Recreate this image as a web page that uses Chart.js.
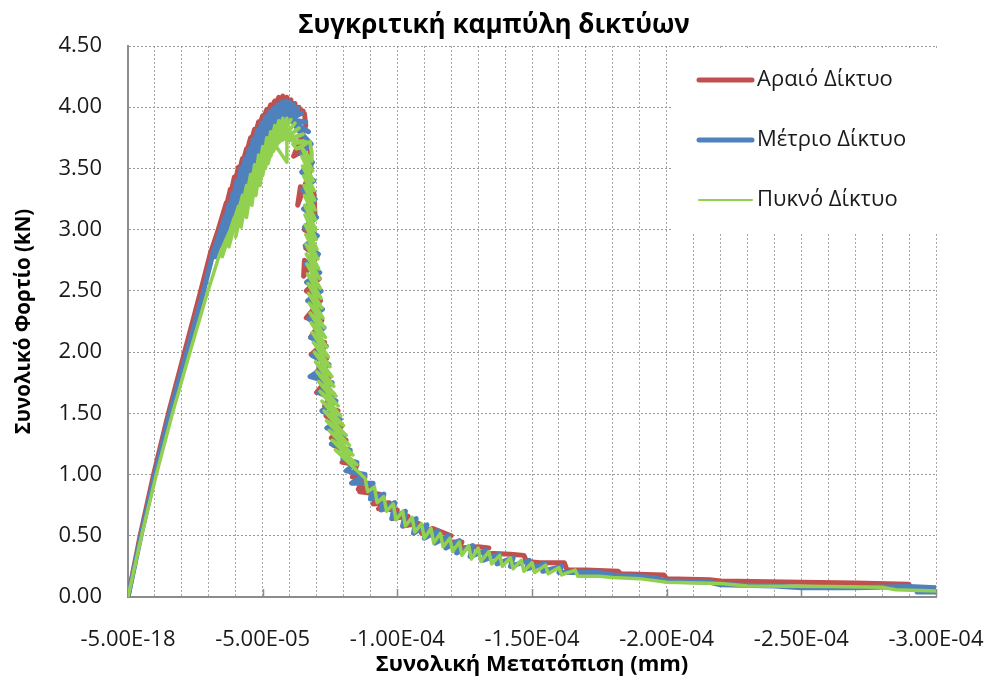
<!DOCTYPE html>
<html>
<head>
<meta charset="utf-8">
<script src="https://cdn.jsdelivr.net/npm/chart.js@4"></script>
<style>
body { margin: 0; background: #fff; }
canvas { display: block; }
</style>
</head>
<body>
<canvas id="c" width="990" height="679"></canvas>
<script>
// displacement magnitudes in units of 1e-5 mm (plotted as negative values), load in kN
const seriesNames = ['Αραιό Δίκτυο', 'Μέτριο Δίκτυο', 'Πυκνό Δίκτυο'];

const araioX = [0, 0.45, 0.95, 1.5, 2.1, 2.7,
  3.05, 3.35, 3.5, 3.65, 3.2, 3.8, 3.5, 3.95, 3.65, 4.1, 3.8, 4.25, 3.95, 4.4, 4.1, 4.55, 4.25, 4.7, 4.4, 4.85, 4.52,
  5.0, 4.65, 5.15, 4.8, 5.3, 4.93, 5.45, 5.05, 5.6, 5.2, 5.75, 5.33, 5.9, 5.48, 6.05, 5.62, 6.2, 5.76, 6.35, 5.9,
  6.5, 6.03, 6.55,
  6.6, 6.15, 6.3, 6.75, 6.8, 6.3, 6.4, 6.9, 6.95, 6.55, 6.98, 6.6, 7.02, 6.52, 6.55, 7.1, 6.62, 7.15, 6.62, 7.2,
  6.78, 7.3, 6.8, 7.38, 6.95, 7.48, 7.0, 7.62, 7.3, 7.8, 7.35, 7.95, 7.55, 8.1, 7.62, 8.25, 7.95, 8.5, 8.33, 8.8,
  8.55, 9.1, 8.6, 9.35, 9.1, 9.7, 9.3, 10.0, 9.8, 10.4, 10.2, 10.8, 10.9, 11.3, 12.0, 11.7, 12.4, 12.3, 13.0, 13.4,
  13.2, 14.2, 14.7, 14.8, 15.3, 16.2, 16.3, 17.0, 18.2, 18.3, 19.9, 20.0, 21.6, 22.0, 25.0, 27.0, 29.0];
const araioY = [0, 0.5, 1.0, 1.5, 2.0, 2.5,
  2.8, 3.0, 3.11, 3.22, 2.78, 3.33, 2.97, 3.43, 3.08, 3.51, 3.19, 3.58, 3.29, 3.66, 3.38, 3.75, 3.46, 3.82, 3.53, 3.88, 3.6,
  3.93, 3.68, 3.98, 3.74, 4.02, 3.8, 4.05, 3.85, 4.08, 3.9, 4.09, 3.94, 4.08, 3.97, 4.06, 4.0, 4.03, 4.01, 4.0, 4.0,
  3.97, 3.98, 3.95,
  3.85, 3.6, 3.62, 3.68, 3.5, 3.2, 3.35, 3.3, 3.1, 3.0, 2.95, 2.85, 2.78, 2.62, 2.75, 2.6, 2.5, 2.42, 2.28, 2.26,
  2.12, 2.08, 1.98, 1.95, 1.82, 1.8, 1.67, 1.66, 1.56, 1.52, 1.48, 1.4, 1.3, 1.28, 1.24, 1.18, 1.1, 1.08, 0.98, 0.98,
  0.88, 0.9, 0.86, 0.84, 0.76, 0.77, 0.72, 0.71, 0.64, 0.66, 0.58, 0.6, 0.52, 0.56, 0.5, 0.45, 0.45, 0.4, 0.41, 0.4,
  0.36, 0.35, 0.34, 0.29, 0.28, 0.28, 0.22, 0.22, 0.21, 0.19, 0.18, 0.15, 0.14, 0.13, 0.12, 0.115, 0.105];

const metrioX = [0, 0.5, 1.0, 1.55, 2.15, 2.75,
  3.15, 3.3, 3.45, 3.6, 3.25, 3.75, 3.45, 3.9, 3.65, 4.05, 3.85, 4.2, 4.05, 4.35, 4.25, 4.5, 4.45, 4.65, 4.6, 4.8,
  4.75, 4.95, 4.85, 5.1, 4.95, 5.25, 5.05, 5.4, 5.15, 5.55, 5.25, 5.7, 5.35, 5.85, 5.45, 6.0, 5.6, 6.15, 5.72, 6.3,
  5.85, 6.45, 5.98, 6.6, 6.1, 6.7, 6.22, 6.33,
  6.8, 6.42, 6.85, 6.45, 6.9, 6.48, 6.95, 6.52, 7.0, 6.55, 7.03, 6.58, 7.07, 6.6, 7.12, 6.63, 7.17, 6.67, 7.22, 6.72,
  7.28, 6.78, 7.36, 6.85, 7.46, 6.76, 7.58, 7.08, 7.72, 7.2, 7.88, 7.38, 8.05, 7.55, 8.25, 7.98, 8.5, 8.1, 8.8, 8.3,
  9.1, 9.0, 9.5, 9.4, 9.9, 9.8, 10.3, 10.2, 10.7, 10.6, 11.1, 11.0, 11.5, 11.4, 11.9, 11.8, 12.3, 12.2, 12.8, 12.7,
  13.3, 13.2, 13.8, 13.7, 14.3, 14.2, 14.9, 14.8, 15.5, 15.4, 16.1, 16.0,
  17.5, 18.0, 19.5, 20.0, 21.6, 22.0, 24.0, 25.0, 27.0, 29.0, 30.0, 29.3, 30.0];
const metrioY = [0, 0.52, 1.0, 1.5, 1.97, 2.45,
  2.8, 2.9, 3.0, 3.1, 2.78, 3.2, 2.87, 3.3, 2.96, 3.4, 3.05, 3.5, 3.14, 3.58, 3.23, 3.66, 3.32, 3.74, 3.42, 3.81,
  3.5, 3.87, 3.57, 3.92, 3.64, 3.96, 3.7, 3.99, 3.75, 4.02, 3.79, 4.04, 3.82, 4.05, 3.85, 4.04, 3.88, 4.02, 3.9, 3.99,
  3.91, 3.95, 3.9, 3.88, 3.88, 3.8, 3.85, 3.81,
  3.7, 3.62, 3.55, 3.47, 3.4, 3.32, 3.25, 3.17, 3.1, 3.02, 2.95, 2.87, 2.8, 2.72, 2.65, 2.57, 2.5, 2.42, 2.35, 2.27,
  2.2, 2.12, 2.05, 1.97, 1.9, 1.8, 1.75, 1.67, 1.6, 1.52, 1.45, 1.38, 1.32, 1.25, 1.2, 1.13, 1.1, 1.03, 1.0, 0.93,
  0.93, 0.8, 0.84, 0.71, 0.77, 0.64, 0.7, 0.58, 0.64, 0.52, 0.59, 0.48, 0.54, 0.44, 0.5, 0.4, 0.46, 0.36, 0.42, 0.33,
  0.38, 0.3, 0.35, 0.27, 0.32, 0.25, 0.3, 0.23, 0.27, 0.21, 0.25, 0.2,
  0.2, 0.18, 0.16, 0.13, 0.12, 0.1, 0.09, 0.075, 0.075, 0.085, 0.075, 0.04, 0.04];

const pyknoX = [0, 0.5, 1.05, 1.65, 2.3, 2.9,
  3.4, 3.6, 3.8, 3.95, 3.5, 4.1, 3.75, 4.25, 4.0, 4.4, 4.2, 4.55, 4.4, 4.7, 4.6, 4.85, 4.75, 5.0, 4.9, 5.15, 5.0,
  5.3, 5.1, 5.45, 5.2, 5.6, 5.3, 5.75, 5.4, 5.9, 5.9, 5.5, 6.05, 5.6, 6.2, 5.72, 6.35, 5.85, 6.5, 6.0, 6.6, 6.12, 6.25,
  6.76, 6.8, 6.83, 6.42, 6.86, 6.45, 6.88, 6.48, 6.91, 6.52, 6.93, 6.54, 6.95, 6.55, 6.96, 6.56, 6.97, 6.57, 6.99, 6.58,
  7.02, 6.6, 7.05, 6.61, 7.08, 6.62, 7.11, 6.64, 7.14, 6.66, 7.17, 6.68, 7.2, 6.7, 7.24, 6.73, 7.29, 6.76, 7.33, 6.8,
  7.38, 6.84, 7.44, 6.88, 7.5, 6.92, 7.57, 6.96, 7.64, 7.01, 7.72, 7.07, 7.81, 7.13, 7.9, 7.2, 8.0, 7.28, 8.1, 7.37,
  8.22, 7.47, 8.35, 7.58, 8.5, 7.7,
  8.8, 8.9, 9.15, 9.25, 9.5, 9.6, 9.85, 9.95, 10.2, 10.3, 10.55, 10.65, 10.9, 11.0, 11.25, 11.35, 11.6, 11.7,
  11.95, 12.05, 12.3, 12.4, 12.65, 12.75, 13.0, 13.1, 13.4, 13.5, 13.8, 13.9, 14.2, 14.3, 14.6, 14.7, 15.0, 15.1,
  15.5, 15.6, 16.0, 16.1, 16.6, 16.7,
  17.5, 18.0, 19.0, 20.0, 22.0, 23.0, 26.0, 28.0, 28.5, 30.0];
const pyknoY = [0, 0.5, 1.0, 1.5, 2.0, 2.45,
  2.8, 2.9, 3.0, 3.1, 2.78, 3.19, 2.86, 3.28, 2.94, 3.36, 3.02, 3.45, 3.1, 3.53, 3.2, 3.61, 3.28, 3.68, 3.36, 3.75, 3.44,
  3.8, 3.5, 3.85, 3.54, 3.89, 3.6, 3.91, 3.64, 3.91, 3.55, 3.68, 3.9, 3.71, 3.87, 3.73, 3.83, 3.74, 3.78, 3.73, 3.72, 3.7, 3.66,
  3.72, 3.64, 3.56, 3.68, 3.48, 3.6, 3.4, 3.52, 3.32, 3.44, 3.24, 3.36, 3.16, 3.28, 3.08, 3.2, 3.0, 3.12, 2.92, 3.04,
  2.84, 2.96, 2.76, 2.88, 2.68, 2.8, 2.6, 2.72, 2.52, 2.64, 2.44, 2.56, 2.36, 2.48, 2.28, 2.4, 2.2, 2.32, 2.12, 2.24,
  2.04, 2.16, 1.96, 2.08, 1.88, 2.0, 1.8, 1.92, 1.72, 1.84, 1.64, 1.76, 1.56, 1.68, 1.48, 1.6, 1.4, 1.52, 1.32, 1.44,
  1.24, 1.36, 1.16, 1.28, 1.08, 1.2,
  0.97, 0.86, 0.9, 0.77, 0.82, 0.7, 0.76, 0.63, 0.7, 0.58, 0.65, 0.53, 0.6, 0.48, 0.56, 0.44, 0.52, 0.41,
  0.48, 0.37, 0.45, 0.34, 0.42, 0.31, 0.4, 0.29, 0.37, 0.27, 0.34, 0.25, 0.32, 0.23, 0.3, 0.21, 0.28, 0.2,
  0.26, 0.19, 0.24, 0.18, 0.22, 0.17,
  0.17, 0.16, 0.15, 0.12, 0.11, 0.09, 0.085, 0.08, 0.06, 0.05];

const xTickLabels = ['-5.00E-18', '-5.00E-05', '-1.00E-04', '-1.50E-04', '-2.00E-04', '-2.50E-04', '-3.00E-04'];
const yTickLabels = ['0.00', '0.50', '1.00', '1.50', '2.00', '2.50', '3.00', '3.50', '4.00', '4.50'];

const colors = ['#c0504d', '#4f81bd', '#92d050'];
const widths = [5, 5, 3.5];
const legendWidths = [5, 5, 2];
const FONT = "'Open Sans', 'Noto Sans', sans-serif";

function points(xs, ys) {
  return xs.map((d, i) => ({x: -d * 1e-5, y: ys[i]}));
}

const allX = [araioX, metrioX, pyknoX];
const allY = [araioY, metrioY, pyknoY];

const datasets = seriesNames.map((name, i) => ({
  label: name,
  data: points(allX[i], allY[i]),
  showLine: true,
  borderColor: colors[i],
  backgroundColor: colors[i],
  borderWidth: widths[i],
  pointRadius: 0,
  tension: 0,
  borderJoinStyle: 'round',
  borderCapStyle: 'round',
  order: 3 - i
}));

const extras = {
  id: 'extras',
  beforeDatasetsDraw(chart) {
    const {ctx, scales: {x}, chartArea} = chart;
    ctx.save();
    // legend sits on a white box over the grid
    ctx.fillStyle = '#fff';
    ctx.fillRect(672, 48, 270, 184);
    // small major tick marks inside the x axis
    ctx.strokeStyle = '#8c8c8c';
    ctx.lineWidth = 1.5;
    for (let k = 1; k < xTickLabels.length; k++) {
      const px = Math.round(x.getPixelForValue(-k * 5e-5)) + 0.5;
      ctx.beginPath();
      ctx.moveTo(px, chartArea.bottom);
      ctx.lineTo(px, chartArea.bottom - 8);
      ctx.stroke();
    }
    ctx.restore();
  },
  afterDraw(chart) {
    const {ctx} = chart;
    ctx.save();
    ctx.fillStyle = '#000';
    ctx.font = 'bold 26px ' + FONT;
    ctx.textAlign = 'center';
    ctx.textBaseline = 'middle';
    ctx.fillText('Συγκριτική καμπύλη δικτύων', 494, 26);

    ctx.font = '22px ' + FONT;
    ctx.textAlign = 'left';
    chart.data.datasets.forEach((ds, i) => {
      const y = 80 + i * 60;
      ctx.strokeStyle = ds.borderColor;
      ctx.lineWidth = legendWidths[i];
      ctx.lineCap = 'round';
      ctx.beginPath();
      ctx.moveTo(699, y);
      ctx.lineTo(752, y);
      ctx.stroke();
      ctx.fillStyle = '#1a1a1a';
      ctx.fillText(ds.label, 757, y);
    });
    ctx.restore();
  }
};

new Chart(document.getElementById('c'), {
  type: 'scatter',
  data: {datasets},
  plugins: [extras],
  options: {
    responsive: false,
    devicePixelRatio: 1,
    animation: false,
    layout: {padding: {top: 46, right: 54, left: 0, bottom: 0}},
    plugins: {
      legend: {display: false},
      tooltip: {enabled: false},
      title: {display: false}
    },
    scales: {
      x: {
        type: 'linear',
        reverse: true,
        min: -3e-4,
        max: 0,
        afterFit: s => { s.height = 82; s.paddingLeft = 0; s.paddingRight = 0; },
        ticks: {
          stepSize: 1e-5,
          autoSkip: false,
          maxRotation: 0,
          minRotation: 0,
          padding: 30,
          color: '#1a1a1a',
          font: {family: FONT, size: 22},
          callback: v => {
            const k = Math.round(v / 1e-5);
            return k % 5 === 0 ? xTickLabels[Math.abs(k / 5)] : '';
          }
        },
        grid: {color: '#a8a8a8', lineWidth: 1, drawTicks: false},
        border: {display: true, color: '#8c8c8c', width: 2, dash: [2, 2]},
        title: {
          display: true,
          text: 'Συνολική Μετατόπιση (mm)',
          color: '#000',
          font: {family: FONT, size: 22, weight: 'bold'},
          padding: {top: 0, bottom: 1}
        }
      },
      y: {
        min: 0,
        max: 4.5,
        afterFit: s => { s.width = 128; },
        ticks: {
          stepSize: 0.5,
          padding: 26,
          color: '#1a1a1a',
          font: {family: FONT, size: 22},
          callback: v => yTickLabels[Math.round(v / 0.5)]
        },
        grid: {color: '#9a9a9a', lineWidth: 1, drawTicks: false},
        border: {display: true, color: '#8c8c8c', width: 2, dash: [2, 2]},
        title: {
          display: true,
          text: 'Συνολικό Φορτίο (kN)',
          color: '#000',
          font: {family: FONT, size: 20.5, weight: 'bold'},
          padding: {top: 12, bottom: 0}
        }
      }
    }
  }
});
</script>
</body>
</html>
